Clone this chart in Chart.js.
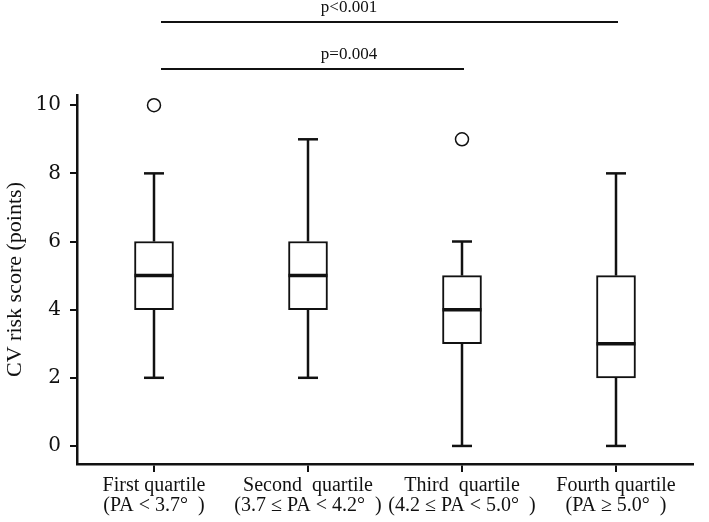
<!DOCTYPE html>
<html>
<head>
<meta charset="utf-8">
<script src="https://cdn.jsdelivr.net/npm/chart.js@4/dist/chart.umd.min.js"></script>
<style>
  html, body { margin: 0; padding: 0; background: #fff; }
  #wrap { width: 709px; height: 522px; }
</style>
</head>
<body>
<div id="wrap"><canvas id="chart"></canvas></div>
<script>
// box plot data
const categories = [
  ['First quartile', '(PA < 3.7°  )'],
  ['Second  quartile', '(3.7 ≤ PA < 4.2°  )'],
  ['Third  quartile', '(4.2 ≤ PA < 5.0°  )'],
  ['Fourth quartile', '(PA ≥ 5.0°  )']
];
const mins    = [2, 2, 0, 0];
const q1s     = [4, 4, 3, 2];
const medians = [5, 5, 4, 3];
const q3s     = [6, 6, 5, 5];
const maxs    = [8, 9, 6, 8];
const outliers = [10, null, 9, null];
const yTicks = [0, 2, 4, 6, 8, 10];
// significance brackets: [from, to, label]
const comparisons = [
  [0, 2, 'p=0.004'],
  [0, 3, 'p<0.001']
];

const serif = '"Liberation Serif", "Times New Roman", serif';
const ink = '#111';

const boxPlot = {
  id: 'boxPlot',
  afterDatasetsDraw(chart) {
    const { ctx, scales: { x, y } } = chart;
    const bars = chart.getDatasetMeta(0).data;
    ctx.save();
    ctx.strokeStyle = ink;
    ctx.lineCap = 'butt';
    const seg = (x1, y1, x2, y2) => {
      ctx.beginPath();
      ctx.moveTo(x1, y1);
      ctx.lineTo(x2, y2);
      ctx.stroke();
    };
    categories.forEach((c, i) => {
      const cx = x.getPixelForValue(i);
      const half = bars[i].width / 2;
      const capHalf = 10;
      ctx.lineWidth = 2.5;
      seg(cx, y.getPixelForValue(q3s[i]), cx, y.getPixelForValue(maxs[i]));
      seg(cx - capHalf, y.getPixelForValue(maxs[i]), cx + capHalf, y.getPixelForValue(maxs[i]));
      seg(cx, y.getPixelForValue(q1s[i]), cx, y.getPixelForValue(mins[i]));
      seg(cx - capHalf, y.getPixelForValue(mins[i]), cx + capHalf, y.getPixelForValue(mins[i]));
      ctx.lineWidth = 3.5;
      seg(cx - half, y.getPixelForValue(medians[i]), cx + half, y.getPixelForValue(medians[i]));
    });

    // significance lines above the plot
    const rows = [69, 22];
    ctx.font = '17px ' + serif;
    ctx.fillStyle = ink;
    ctx.textAlign = 'center';
    ctx.textBaseline = 'middle';
    comparisons.forEach(([a, b, label], k) => {
      const ly = rows[k];
      ctx.lineWidth = 2;
      seg(x.getPixelForValue(a) + 7, ly, x.getPixelForValue(b) + 2, ly);
      ctx.fillText(label, x.getPixelForValue(1) + 41, ly - 14);
    });
    ctx.restore();
  }
};

new Chart(document.getElementById('chart'), {
  data: {
    labels: categories,
    datasets: [
      {
        type: 'bar',
        data: q1s.map((v, i) => [v, q3s[i]]),
        backgroundColor: '#ffffff',
        borderColor: ink,
        borderWidth: 2,
        borderSkipped: false,
        barThickness: 39
      },
      {
        type: 'line',
        data: outliers,
        showLine: false,
        pointStyle: 'circle',
        pointRadius: 6.5,
        pointBackgroundColor: '#ffffff',
        pointBorderColor: ink,
        pointBorderWidth: 1.5,
        clip: false
      }
    ]
  },
  options: {
    responsive: true,
    maintainAspectRatio: false,
    animation: false,
    layout: { padding: { top: 95, right: 16, left: 0, bottom: 0 } },
    plugins: {
      legend: { display: false },
      tooltip: { enabled: false }
    },
    scales: {
      x: {
        type: 'category',
        offset: true,
        afterFit: (s) => { s.height = 58; },
        grid: { display: true, drawOnChartArea: false, offset: false, tickLength: 8, lineWidth: 2, color: ink },
        border: { display: true, color: ink, width: 2.5 },
        ticks: {
          color: ink,
          padding: 4,
          maxRotation: 0,
          autoSkip: false,
          font: { family: serif, size: 20, lineHeight: 1.0 }
        }
      },
      y: {
        min: -0.53,
        max: 10.3,
        afterFit: (s) => { s.width = 77; },
        afterBuildTicks: (s) => { s.ticks = yTicks.map(v => ({ value: v })); },
        grid: { display: true, drawOnChartArea: false, tickLength: 7, lineWidth: 2, color: ink },
        border: { display: true, color: ink, width: 2.5 },
        ticks: {
          color: ink,
          padding: 9,
          font: { family: '"DejaVu Serif", serif', size: 20 }
        },
        title: {
          display: true,
          text: 'CV risk score (points)',
          color: ink,
          padding: { top: 2, bottom: 0 },
          font: { family: serif, size: 22, lineHeight: 1.2 }
        }
      }
    }
  },
  plugins: [boxPlot]
});
</script>
</body>
</html>
